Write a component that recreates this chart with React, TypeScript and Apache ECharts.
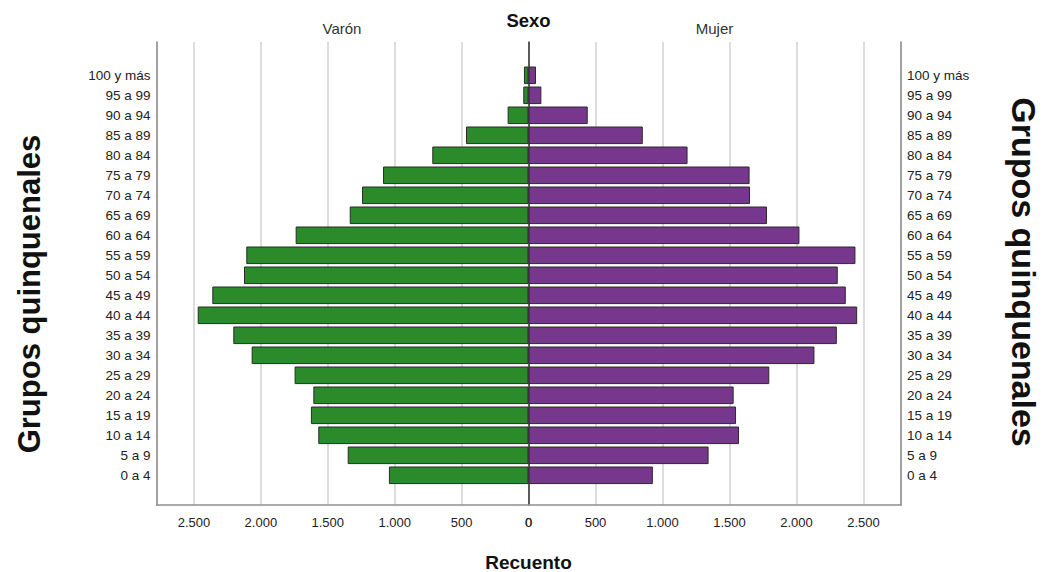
import React, { useEffect, useRef } from "react";
import * as echarts from "echarts";

const categories = [
  "100 y más", "95 a 99", "90 a 94", "85 a 89", "80 a 84", "75 a 79", "70 a 74",
  "65 a 69", "60 a 64", "55 a 59", "50 a 54", "45 a 49", "40 a 44", "35 a 39",
  "30 a 34", "25 a 29", "20 a 24", "15 a 19", "10 a 14", "5 a 9", "0 a 4",
];
const varon = [34, 39, 156, 467, 719, 1087, 1244, 1336, 1740, 2109, 2126, 2363, 2472, 2206, 2069, 1748, 1608, 1626, 1571, 1351, 1043];
const mujer = [56, 96, 442, 853, 1187, 1650, 1653, 1780, 2022, 2440, 2308, 2368, 2453, 2301, 2134, 1797, 1531, 1549, 1571, 1344, 928];
const sexLabels = ["Varón", "Mujer"];
const axisMax = 2780;
const tickStep = 500;

const FONT = "'Liberation Sans', Arial, sans-serif";

const fmt = (v: number) => {
  if (v % tickStep !== 0) return "";
  return String(v).replace(/\B(?=(\d{3})+(?!\d))/g, ".");
};

export default function App() {
  const ref = useRef<HTMLDivElement>(null);
  useEffect(() => {
    const chart = echarts.init(ref.current!, undefined, { renderer: "svg" });
    const frameX = (inverse: boolean) => ({
      type: "value",
      min: 0,
      max: axisMax,
      interval: tickStep,
      inverse,
      axisLine: { show: true, onZero: false, lineStyle: { color: "#8f8f8f", width: 1.5 } },
      axisTick: { show: false },
      splitLine: { show: true, lineStyle: { color: "#d0d0d0", width: 1.5 } },
      axisLabel: {
        formatter: fmt,
        color: "#222",
        fontSize: 13,
        fontFamily: FONT,
        margin: 11,
        showMinLabel: true,
        showMaxLabel: false,
      },
    });
    const barX = (inverse: boolean) => ({
      type: "value",
      min: 0,
      max: axisMax,
      inverse,
      show: false,
      splitLine: { show: false },
    });
    const catY = (position: string, align: string) => ({
      type: "category",
      data: categories,
      inverse: true,
      position,
      axisLine: { show: false },
      axisTick: { show: false },
      axisLabel: {
        color: "#222",
        fontSize: 13.5,
        fontFamily: FONT,
        margin: 6,
        align,
      },
    });
    const frameY = (gridIndex: number, position: string, color: string, width: number) => ({
      type: "value",
      gridIndex,
      min: 0,
      max: 1,
      position,
      axisLine: { show: true, onZero: false, lineStyle: { color, width } },
      axisTick: { show: false },
      axisLabel: { show: false },
      splitLine: { show: false },
    });

    chart.setOption({
      animation: false,
      grid: [
        { left: 156.5, right: 518.5, top: 42, bottom: 67 },
        { left: 528.5, right: 146, top: 42, bottom: 67 },
        { left: 156.5, right: 518.5, top: 65.3, bottom: 86.7 },
        { left: 528.5, right: 146, top: 65.3, bottom: 86.7 },
      ],
      xAxis: [
        { ...frameX(true), gridIndex: 0 },
        { ...frameX(false), gridIndex: 1 },
        { ...barX(true), gridIndex: 2 },
        { ...barX(false), gridIndex: 3 },
      ],
      yAxis: [
        frameY(0, "left", "#8f8f8f", 1.5),
        frameY(1, "left", "#333", 1.5),
        frameY(1, "right", "#8f8f8f", 1.5),
        { ...catY("left", "right"), gridIndex: 2 },
        { ...catY("right", "left"), gridIndex: 3 },
      ],
      series: [
        {
          name: sexLabels[0],
          type: "bar",
          xAxisIndex: 2,
          yAxisIndex: 3,
          data: varon,
          barCategoryGap: "12%",
          itemStyle: { color: "#2b8a2a", borderColor: "#2a2a2a", borderWidth: 1 },
        },
        {
          name: sexLabels[1],
          type: "bar",
          xAxisIndex: 3,
          yAxisIndex: 4,
          data: mujer,
          barCategoryGap: "12%",
          itemStyle: { color: "#76378c", borderColor: "#2a2a2a", borderWidth: 1 },
        },
      ],
      graphic: [
        {
          type: "text",
          x: 342,
          y: 28,
          style: { text: sexLabels[0], font: `15px ${FONT}`, fill: "#333", textAlign: "center", textVerticalAlign: "middle" },
        },
        {
          type: "text",
          x: 714.5,
          y: 28,
          style: { text: sexLabels[1], font: `15px ${FONT}`, fill: "#333", textAlign: "center", textVerticalAlign: "middle" },
        },
        {
          type: "text",
          x: 528.5,
          y: 20,
          style: { text: "Sexo", font: `bold 18.5px ${FONT}`, fill: "#111", textAlign: "center", textVerticalAlign: "middle" },
        },
        {
          type: "text",
          x: 528.5,
          y: 562,
          style: { text: "Recuento", font: `bold 19px ${FONT}`, fill: "#111", textAlign: "center", textVerticalAlign: "middle" },
        },
        {
          type: "text",
          x: 29,
          y: 294,
          rotation: Math.PI / 2,
          style: { text: "Grupos quinquenales", font: `bold 31px ${FONT}`, fill: "#111", textAlign: "center", textVerticalAlign: "middle" },
        },
        {
          type: "text",
          x: 1024,
          y: 272,
          rotation: -Math.PI / 2,
          style: { text: "Grupos quinquenales", font: `bold 34px ${FONT}`, fill: "#111", textAlign: "center", textVerticalAlign: "middle" },
        },
      ],
    });
    return () => chart.dispose();
  }, []);
  return (
    <div
      ref={ref}
      style={{ position: "absolute", left: 0, top: 0, width: 1047, height: 572, background: "#fff" }}
    />
  );
}
